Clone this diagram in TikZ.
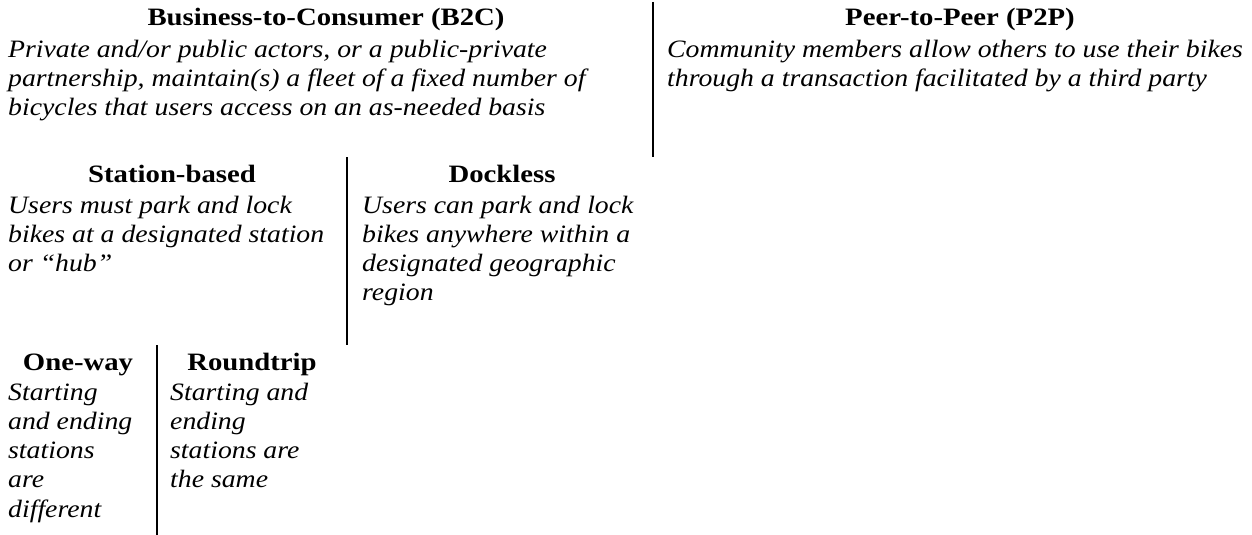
\documentclass[tikz,border=0pt]{standalone}
\usepackage{fontspec}
\setmainfont{Liberation Serif}
\newfontfamily\headfnt{Liberation Serif}[FakeStretch=1.15]
\newfontfamily\descfnt{Liberation Serif}[FakeStretch=1.11]
\newcommand{\paralines}[1]{\begin{tabular}[t]{@{}l@{}}#1\end{tabular}}
\begin{document}
\begin{tikzpicture}[x=1pt,y=-1pt,
  head/.style={font=\headfnt\fontsize{25}{29.3}\selectfont\bfseries, anchor=base, inner sep=0pt},
  desc/.style={font=\descfnt\fontsize{25}{29.3}\selectfont\itshape, anchor=base west, inner sep=0pt},
  sep/.style={line width=1.5pt, black}]
\useasboundingbox (0,0) rectangle (1252,535);
% level 1
\node[head] (b2c) at (326,26) {Business-to-Consumer (B2C)};
\node[desc] (b2cd) at (8,57) {\paralines{Private and/or public actors, or a public-private\\partnership, maintain(s) a fleet of a fixed number of\\bicycles that users access on an as-needed basis}};
\node[head] (p2p) at (960,26) {Peer-to-Peer (P2P)};
\node[desc] (p2pd) at (667,57) {\paralines{Community members allow others to use their bikes\\through a transaction facilitated by a third party}};
\coordinate (s1a) at (653,2);
\coordinate (s1b) at (653,157);
\draw[sep] (s1a) -- (s1b);
% level 2
\node[head] (sb) at (172,182) {Station-based};
\node[desc] (sbd) at (8,213) {\paralines{Users must park and lock\\bikes at a designated station\\or “hub”}};
\node[head] (dl) at (502,182) {Dockless};
\node[desc] (dld) at (362,213) {\paralines{Users can park and lock\\bikes anywhere within a\\designated geographic\\region}};
\coordinate (s2a) at (347,157);
\coordinate (s2b) at (347,345);
\draw[sep] (s2a) -- (s2b);
% level 3
\node[head] (ow) at (78,370) {One-way};
\node[desc] (owd) at (8,400) {\paralines{Starting\\and ending\\stations\\are\\different}};
\node[head] (rt) at (252,370) {Roundtrip};
\node[desc] (rtd) at (170,400) {\paralines{Starting and\\ending\\stations are\\the same}};
\coordinate (s3a) at (157,345);
\coordinate (s3b) at (157,535);
\draw[sep] (s3a) -- (s3b);
\end{tikzpicture}
\end{document}
